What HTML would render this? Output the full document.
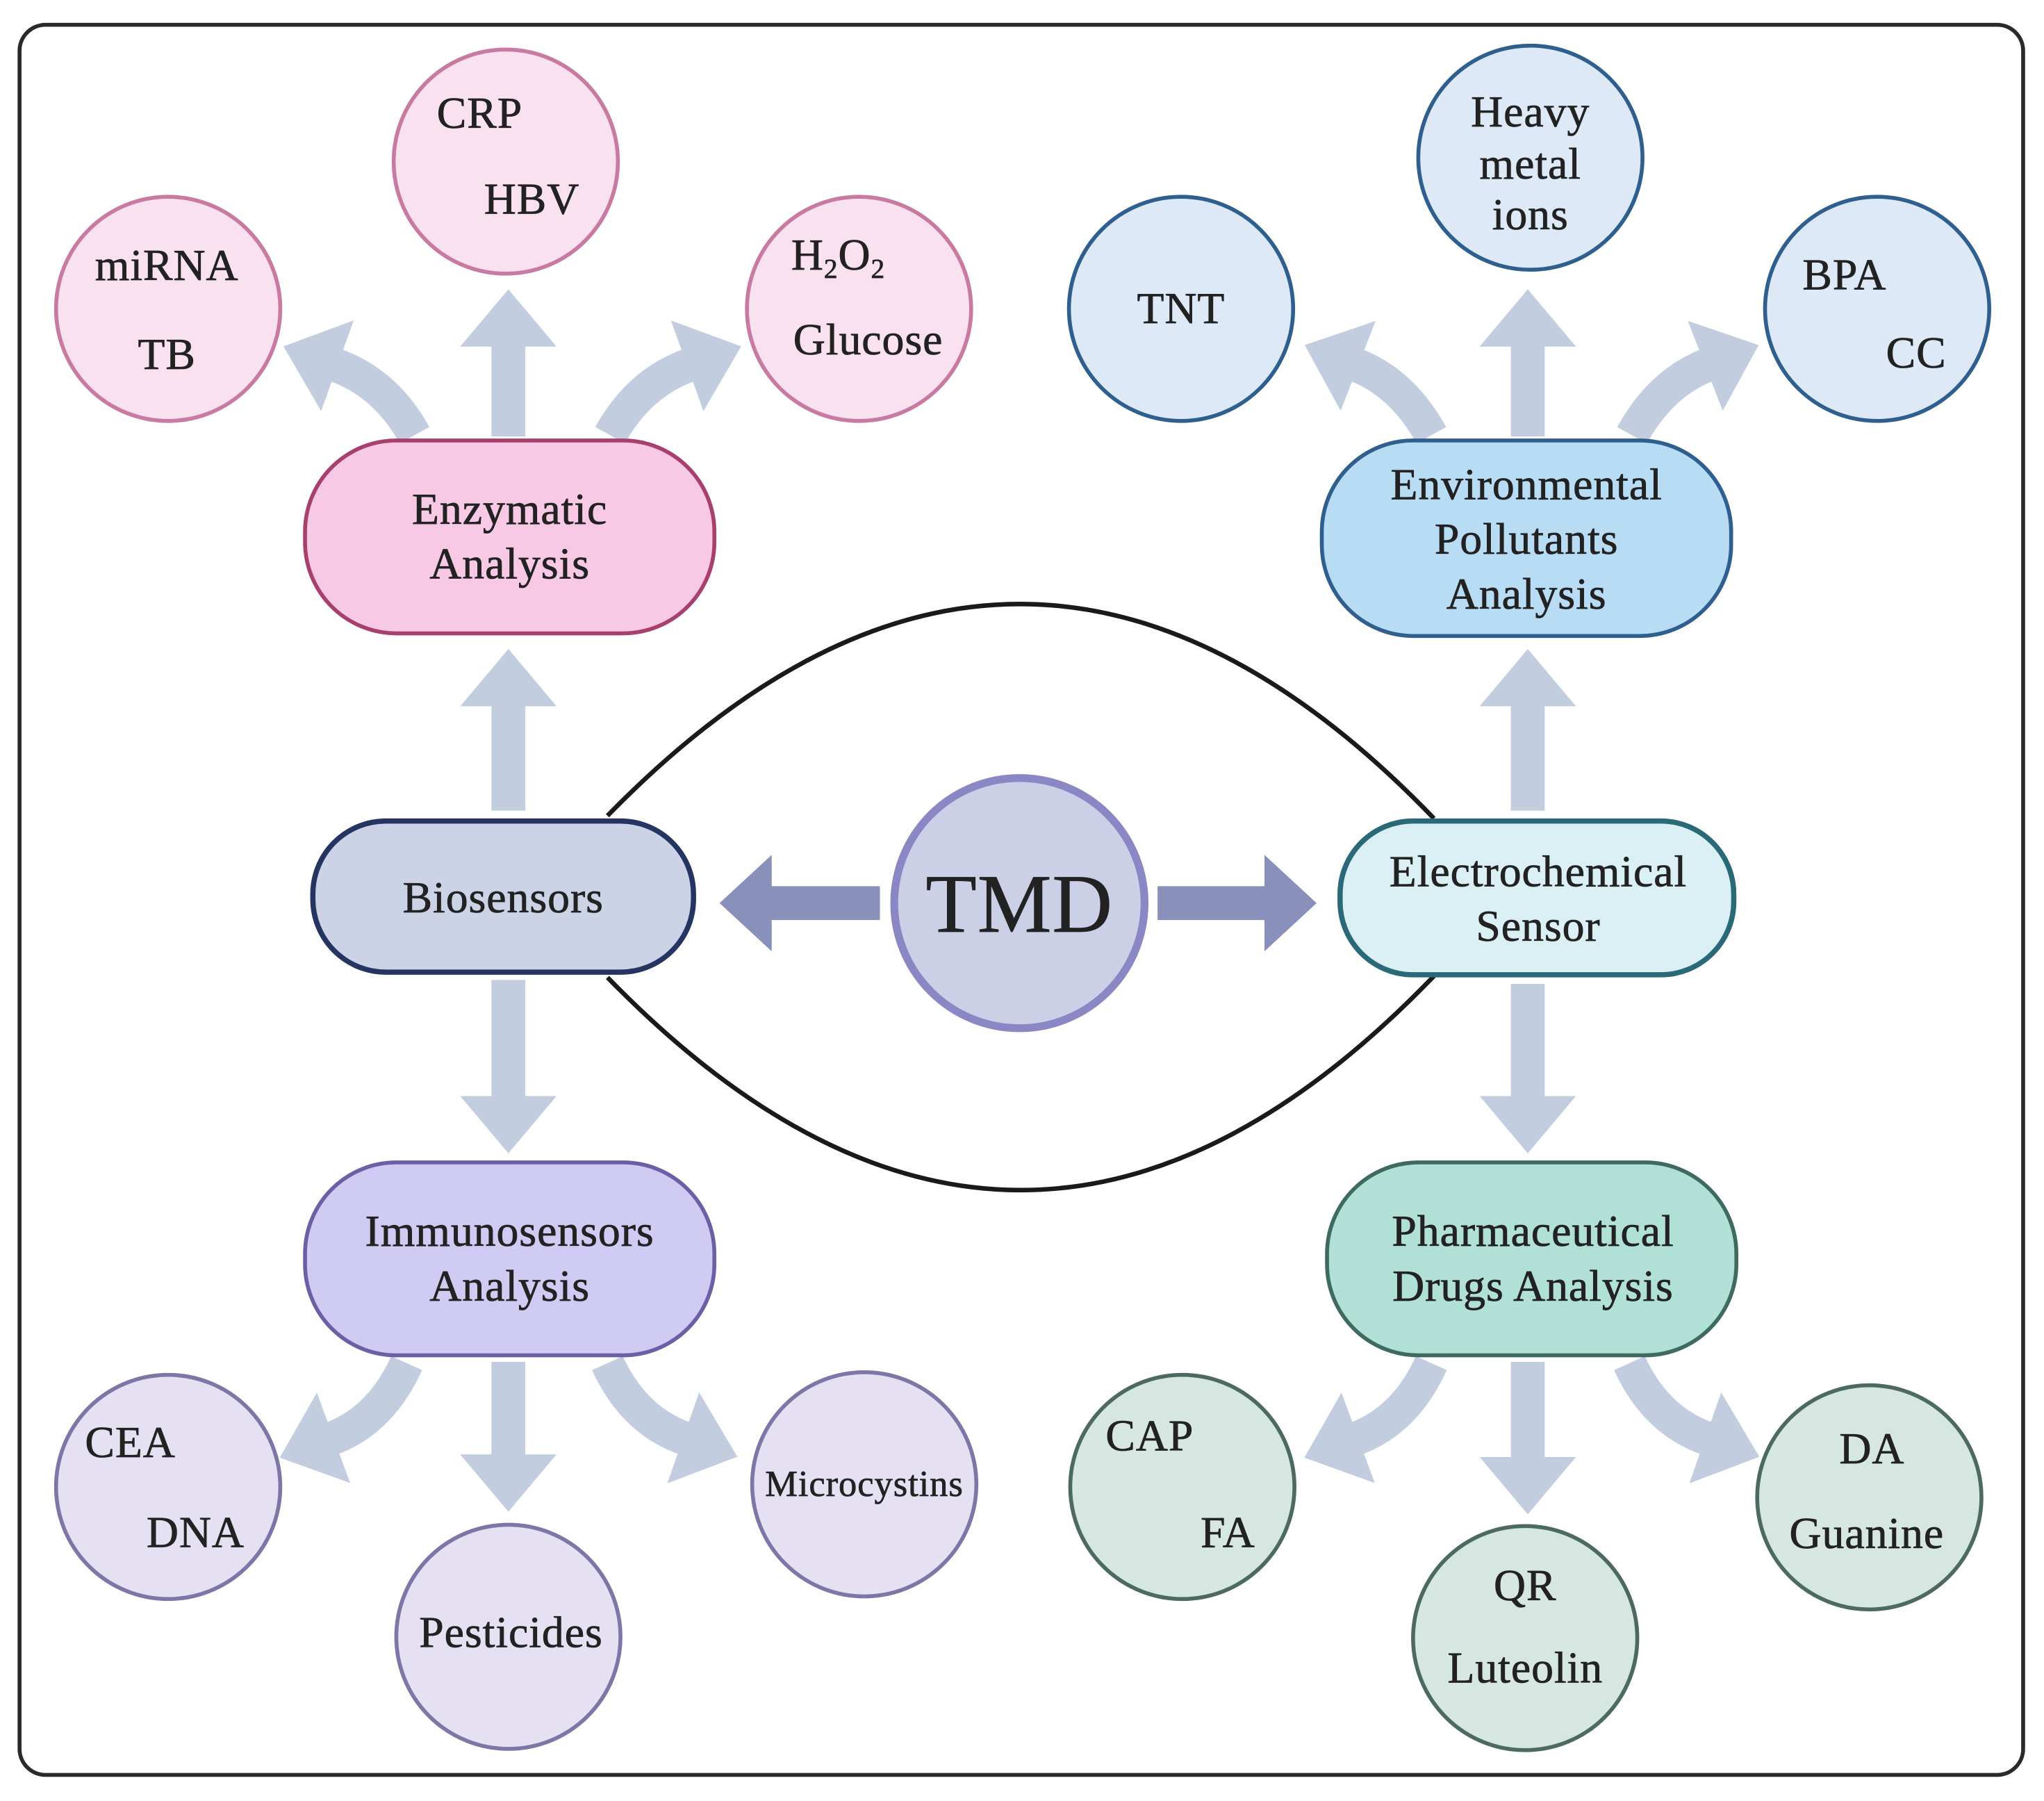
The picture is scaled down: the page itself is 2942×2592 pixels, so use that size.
<!DOCTYPE html>
<html><head><meta charset="utf-8"><style>
html,body{margin:0;padding:0;background:#fff;}
svg{display:block;}
text{font-family:"Liberation Serif",serif;fill:#222;letter-spacing:0.5px;stroke:#222;stroke-width:0.4px;}
</style></head><body>
<svg width="2942" height="2592" viewBox="0 0 1568 1382" preserveAspectRatio="none" xmlns="http://www.w3.org/2000/svg">
<defs>
<marker id="ah" markerUnits="userSpaceOnUse" markerWidth="50" markerHeight="74" refX="2" refY="37" orient="auto">
<path d="M0,0 L44,37 L0,74 Z" fill="#c3cde0"/>
</marker>
<marker id="ah2" markerUnits="userSpaceOnUse" markerWidth="50" markerHeight="74" refX="2" refY="37" orient="auto">
<path d="M0,0 L40,37 L0,74 Z" fill="#8990b9"/>
</marker>
</defs>
<rect x="0" y="0" width="1568" height="1382" fill="#fff"/>
<rect x="15" y="19" width="1537" height="1343" rx="20" fill="#fff" stroke="#2a2a2a" stroke-width="3"/>

<path d="M466,626 Q784,300 1100,628" fill="none" stroke="#1a1a1a" stroke-width="3.5"/>
<path d="M466,750 Q784,1077 1100,749" fill="none" stroke="#1a1a1a" stroke-width="3.5"/>

<g fill="none" stroke="#c3cde0" stroke-width="26" marker-end="url(#ah)">
<path d="M390,622 L390,540"/>
<path d="M390,335 L390,264"/>
<path d="M1172,622 L1172,540"/>
<path d="M1172,335 L1172,264"/>
<path d="M390,752 L390,843"/>
<path d="M390,1045 L390,1118"/>
<path d="M1172,755 L1172,843"/>
<path d="M1172,1045 L1172,1120"/>
<path d="M318,334 Q296,294 257,280"/>
<path d="M468,334 Q490,294 529,280"/>
<path d="M1098,334 Q1076,294 1040,280"/>
<path d="M1252,334 Q1274,294 1310,280"/>
<path d="M312,1046 Q292,1090 254,1104"/>
<path d="M466,1046 Q486,1090 526,1104"/>
<path d="M1098,1046 Q1078,1090 1040,1104"/>
<path d="M1250,1046 Q1270,1090 1310,1104"/>
</g>
<g fill="none" stroke="#8990b9" stroke-width="26">
<path d="M675,693 L590,693" marker-end="url(#ah2)"/>
<path d="M888,693 L972,693" marker-end="url(#ah2)"/>
</g>

<circle cx="782" cy="693" r="96" fill="#cbd0e7" stroke="#8b86c4" stroke-width="6"/>
<text x="782" y="715" font-size="64" text-anchor="middle">TMD</text>

<rect x="234" y="338" width="314" height="148" rx="70" fill="#f7c9e5" stroke="#a8406f" stroke-width="3"/>
<text x="391" y="402" font-size="34" text-anchor="middle">Enzymatic</text>
<text x="391" y="444" font-size="34" text-anchor="middle">Analysis</text>

<rect x="1014" y="338" width="314" height="150" rx="70" fill="#b9dcf5" stroke="#2f5f8f" stroke-width="3"/>
<text x="1171" y="383" font-size="34" text-anchor="middle">Environmental</text>
<text x="1171" y="425" font-size="34" text-anchor="middle">Pollutants</text>
<text x="1171" y="467" font-size="34" text-anchor="middle">Analysis</text>

<rect x="240" y="630" width="292" height="116" rx="56" fill="#ccd3e6" stroke="#253561" stroke-width="4"/>
<text x="386" y="700" font-size="34" text-anchor="middle">Biosensors</text>

<rect x="1028" y="630" width="302" height="118" rx="56" fill="#daf0f5" stroke="#2a6a78" stroke-width="4"/>
<text x="1180" y="680" font-size="34" text-anchor="middle">Electrochemical</text>
<text x="1180" y="722" font-size="34" text-anchor="middle">Sensor</text>

<rect x="234" y="892" width="314" height="148" rx="70" fill="#d0cbf3" stroke="#6c5fa5" stroke-width="3"/>
<text x="391" y="956" font-size="34" text-anchor="middle">Immunosensors</text>
<text x="391" y="998" font-size="34" text-anchor="middle">Analysis</text>

<rect x="1018" y="892" width="314" height="148" rx="70" fill="#b0e0d6" stroke="#3f6a5f" stroke-width="3"/>
<text x="1176" y="956" font-size="34" text-anchor="middle">Pharmaceutical</text>
<text x="1176" y="998" font-size="34" text-anchor="middle">Drugs Analysis</text>

<g fill="#f9e1ef" stroke="#c97aa3" stroke-width="3">
<circle cx="129" cy="237" r="86"/>
<circle cx="388" cy="124" r="86"/>
<circle cx="659" cy="237" r="86"/>
</g>
<text x="128" y="215" font-size="34" text-anchor="middle">miRNA</text>
<text x="128" y="283" font-size="34" text-anchor="middle">TB</text>
<text x="368" y="98" font-size="34" text-anchor="middle">CRP</text>
<text x="408" y="164" font-size="34" text-anchor="middle">HBV</text>
<text x="607" y="207" font-size="34">H<tspan font-size="21" dy="6">2</tspan><tspan dy="-6">O</tspan><tspan font-size="21" dy="6">2</tspan></text>
<text x="666" y="272" font-size="34" text-anchor="middle">Glucose</text>

<g fill="#dde9f7" stroke="#2f5f8f" stroke-width="3">
<circle cx="906" cy="237" r="86"/>
<circle cx="1174" cy="121" r="86"/>
<circle cx="1440" cy="237" r="86"/>
</g>
<text x="906" y="248" font-size="34" text-anchor="middle">TNT</text>
<text x="1174" y="97" font-size="34" text-anchor="middle">Heavy</text>
<text x="1174" y="137" font-size="34" text-anchor="middle">metal</text>
<text x="1174" y="176" font-size="34" text-anchor="middle">ions</text>
<text x="1415" y="222" font-size="34" text-anchor="middle">BPA</text>
<text x="1470" y="282" font-size="34" text-anchor="middle">CC</text>

<g fill="#e5e1f3" stroke="#7f76a8" stroke-width="3">
<circle cx="129" cy="1141" r="86"/>
<circle cx="390" cy="1256" r="86"/>
<circle cx="663" cy="1139" r="86"/>
</g>
<text x="100" y="1118" font-size="34" text-anchor="middle">CEA</text>
<text x="150" y="1187" font-size="34" text-anchor="middle">DNA</text>
<text x="392" y="1264" font-size="34" text-anchor="middle">Pesticides</text>
<text x="663" y="1148" font-size="28" text-anchor="middle">Microcystins</text>

<g fill="#d6e6e0" stroke="#4d6a60" stroke-width="3">
<circle cx="907" cy="1141" r="86"/>
<circle cx="1170" cy="1257" r="86"/>
<circle cx="1434" cy="1149" r="86"/>
</g>
<text x="882" y="1113" font-size="34" text-anchor="middle">CAP</text>
<text x="942" y="1187" font-size="34" text-anchor="middle">FA</text>
<text x="1170" y="1228" font-size="34" text-anchor="middle">QR</text>
<text x="1170" y="1291" font-size="34" text-anchor="middle">Luteolin</text>
<text x="1436" y="1123" font-size="34" text-anchor="middle">DA</text>
<text x="1432" y="1188" font-size="34" text-anchor="middle">Guanine</text>
</svg>
</body></html>
